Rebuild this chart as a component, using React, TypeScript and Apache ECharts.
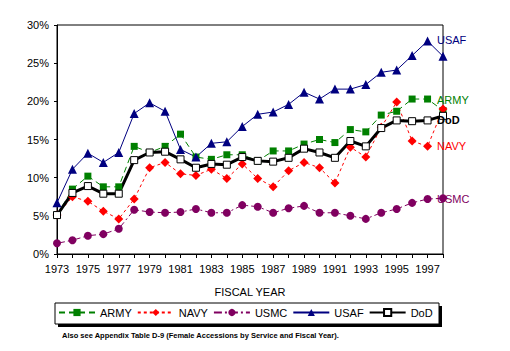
import React, { useEffect, useRef } from "react";
import * as echarts from "echarts";

const years = ["1973","1974","1975","1976","1977","1978","1979","1980","1981","1982","1983","1984","1985","1986","1987","1988","1989","1990","1991","1992","1993","1994","1995","1996","1997","1998"];
const army = [5.1,8.5,10.2,8.8,8.8,14.1,13.3,14.1,15.7,12.7,12.4,13.0,13.0,12.2,13.5,13.5,14.4,15.0,14.6,16.3,16.0,18.2,18.7,20.3,20.3,18.8];
const navy = [5.1,7.5,6.9,5.6,4.6,7.2,11.3,12.0,10.5,10.3,11.1,9.9,11.8,9.9,8.8,10.9,12.0,11.3,9.3,14.0,12.7,16.6,19.9,14.8,14.1,19.0];
const usmc = [1.4,1.8,2.4,2.6,3.3,5.8,5.5,5.4,5.5,5.9,5.4,5.4,6.4,6.2,5.4,6.0,6.3,5.4,5.4,5.0,4.6,5.4,5.9,6.7,7.2,7.3];
const usaf = [6.7,11.1,13.2,12.0,13.3,18.4,19.8,18.7,13.7,12.7,14.5,14.7,16.7,18.3,18.6,19.6,21.2,20.3,21.6,21.6,22.2,23.8,24.1,26.0,27.9,25.9];
const dod = [5.1,8.0,8.9,7.9,7.9,12.3,13.3,13.4,12.4,11.3,11.8,11.7,12.7,12.2,12.1,12.6,13.8,13.3,12.6,14.8,14.1,16.5,17.5,17.4,17.5,18.1];
const yTicks = { min: 0, max: 30, interval: 5 };
const footnote = "Also see Appendix Table D-9 (Female Accessions by Service and Fiscal Year).";

const FONT = "Liberation Sans, Arial, sans-serif";

export default function App() {
  const ref = useRef<HTMLDivElement>(null);
  useEffect(() => {
    if (!ref.current) return;
    const chart = echarts.init(ref.current, null, { renderer: "svg" });
    const endLabel = (color: string, dy: number, bold = false) => ({
      show: true,
      formatter: "{a}",
      color,
      fontFamily: FONT,
      fontSize: 11,
      fontWeight: bold ? "bold" : "normal",
      distance: 0,
      offset: [-6, dy],
    });
    const option: any = {
      animation: false,
      backgroundColor: "#ffffff",
      textStyle: { fontFamily: FONT },
      grid: {
        left: 57,
        right: 67,
        top: 25,
        bottom: 97,
        show: true,
        borderColor: "#000",
        borderWidth: 1,
        backgroundColor: "transparent",
      },
      graphic: [
        { type: "rect", shape: { x: 58, y: 306, width: 384, height: 21 }, style: { fill: "#000" }, z: -1 },
        { type: "rect", shape: { x: 55, y: 303, width: 384, height: 21 }, style: { fill: "#fff", stroke: "#000", lineWidth: 1 }, z: 0 },
        {
          type: "text",
          left: 62,
          top: 331,
          style: { text: footnote, fontFamily: FONT, fontSize: 7.5, fontWeight: "bold", fill: "#000" },
        },
      ],
      legend: {
        left: 58,
        top: 307,
        itemWidth: 36,
        itemHeight: 9,
        itemGap: 5,
        padding: 0,
        z: 5,
        textStyle: { fontFamily: FONT, fontSize: 11, color: "#000" },
        data: ["ARMY", "NAVY", "USMC", "USAF", "DoD"],
      },
      xAxis: {
        type: "category",
        data: years,
        boundaryGap: false,
        name: "FISCAL YEAR",
        nameLocation: "middle",
        nameGap: 32,
        nameTextStyle: { fontFamily: FONT, fontSize: 11, color: "#000" },
        axisLine: { lineStyle: { color: "#000", width: 1 } },
        axisTick: { show: true, interval: 0, length: 4, lineStyle: { color: "#000" } },
        axisLabel: { interval: 1, color: "#000", fontFamily: FONT, fontSize: 11, margin: 9 },
        splitLine: { show: false },
      },
      yAxis: {
        type: "value",
        min: yTicks.min,
        max: yTicks.max,
        interval: yTicks.interval,
        axisLine: { show: true, lineStyle: { color: "#000", width: 1 } },
        axisTick: { show: true, length: 3, lineStyle: { color: "#000" } },
        axisLabel: { formatter: "{value}%", color: "#000", fontFamily: FONT, fontSize: 11, margin: 8 },
        splitLine: { show: false },
      },
      series: [
        {
          name: "ARMY",
          type: "line",
          data: army,
          symbol: "rect",
          symbolSize: 7,
          itemStyle: { color: "#008000" },
          lineStyle: { color: "#008000", width: 1, type: [6, 4] },
          endLabel: endLabel("#008000", -10),
        },
        {
          name: "NAVY",
          type: "line",
          data: navy,
          symbol: "diamond",
          symbolSize: 9,
          itemStyle: { color: "#ff0000" },
          lineStyle: { color: "#ff0000", width: 1, type: [3, 3] },
          endLabel: endLabel("#ff0000", 37),
        },
        {
          name: "USMC",
          type: "line",
          data: usmc,
          symbol: "circle",
          symbolSize: 8,
          itemStyle: { color: "#800060" },
          lineStyle: { color: "#800060", width: 1, type: [8, 3, 2, 3] },
          endLabel: endLabel("#800060", 1),
        },
        {
          name: "USAF",
          type: "line",
          data: usaf,
          symbol: "triangle",
          symbolSize: 9,
          itemStyle: { color: "#000080" },
          lineStyle: { color: "#000080", width: 1 },
          endLabel: endLabel("#000080", -16),
        },
        {
          name: "DoD",
          type: "line",
          data: dod,
          symbol: "rect",
          symbolSize: 7,
          itemStyle: { color: "#ffffff", borderColor: "#000", borderWidth: 1 },
          lineStyle: { color: "#000", width: 3 },
          endLabel: endLabel("#000", 4, true),
        },
      ],
    };
    chart.setOption(option);
    return () => chart.dispose();
  }, []);
  return (
    <div
      ref={ref}
      style={{ position: "fixed", left: 0, top: 0, width: 510, height: 351, background: "#fff" }}
    />
  );
}
